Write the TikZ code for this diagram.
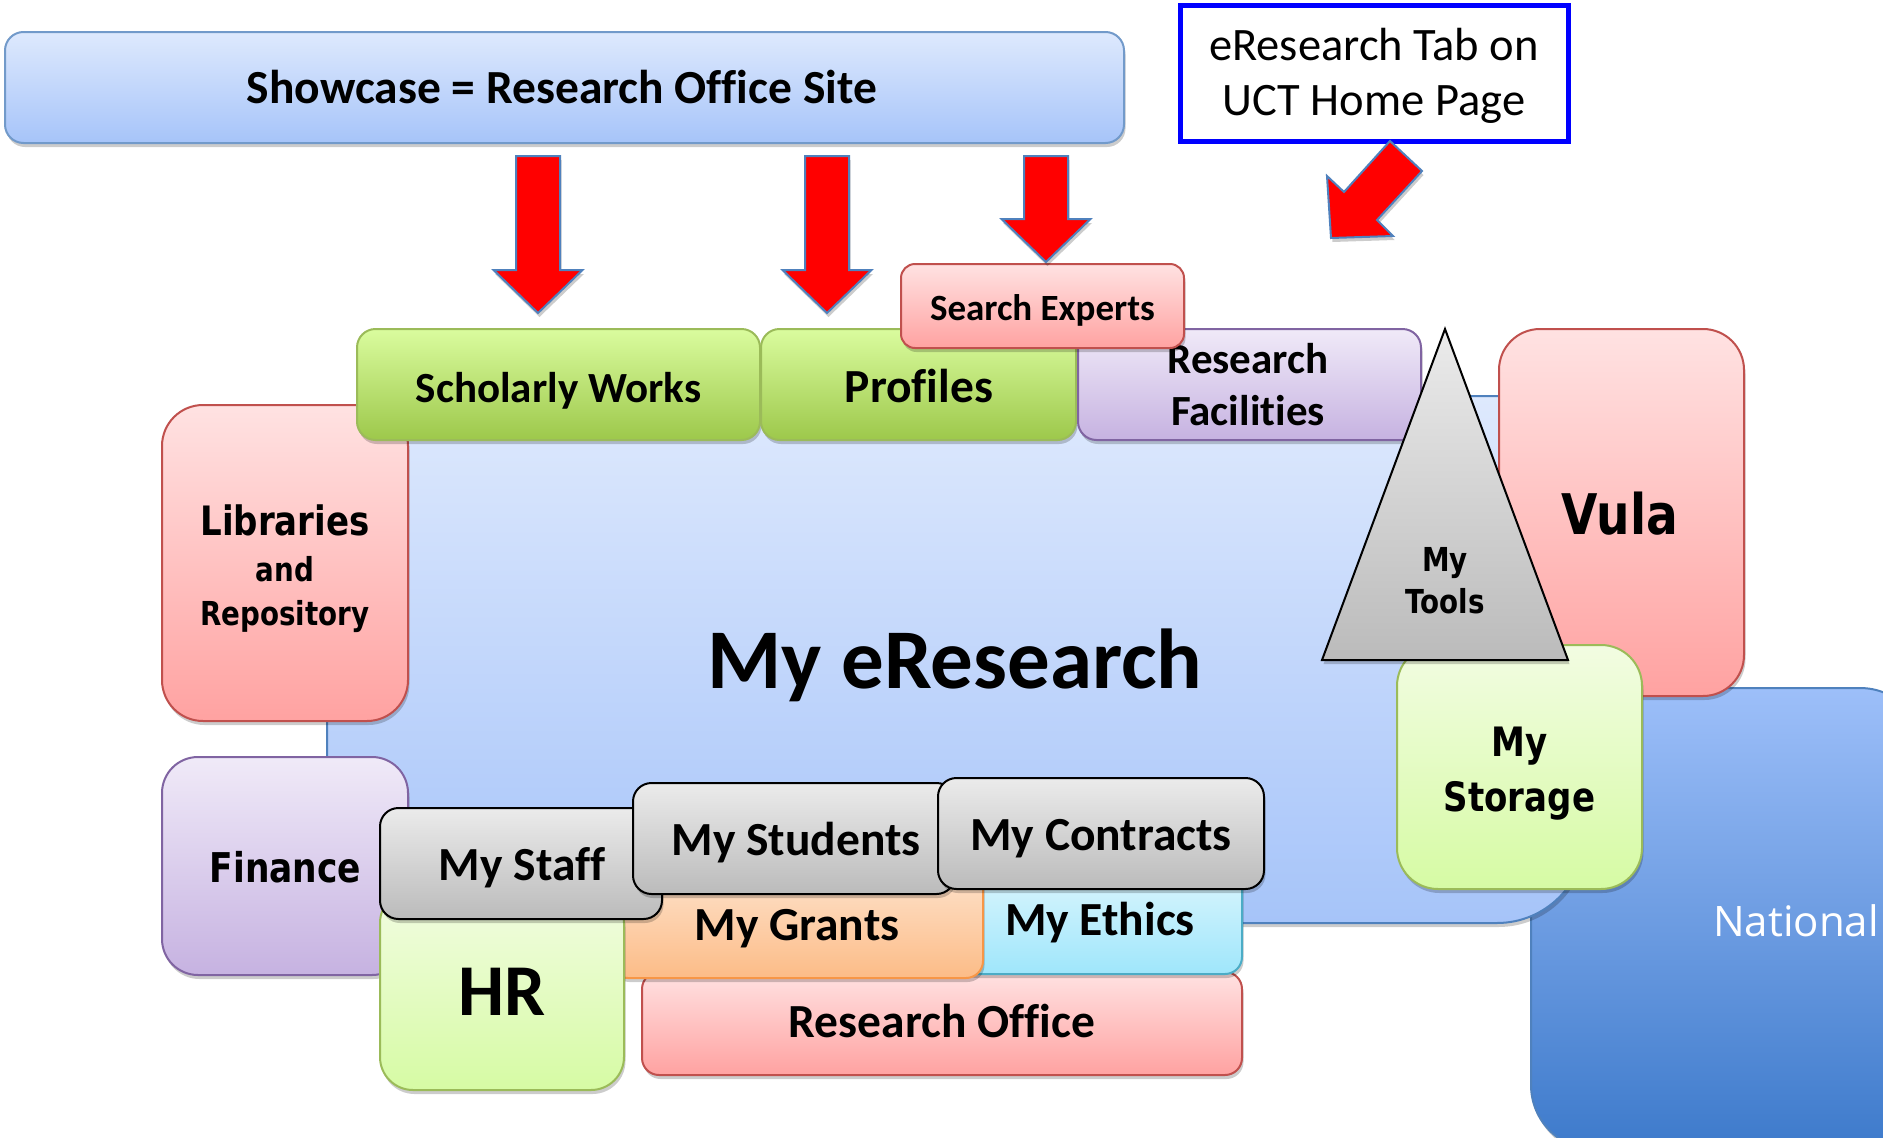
\documentclass[tikz,border=0pt]{standalone}
\usepackage{fontspec}
\setmainfont[Ligatures=NoCommon]{Carlito}
\newfontfamily\tah[FakeStretch=0.84]{DejaVu Sans}
\newfontfamily\osans{Open Sans}
\usetikzlibrary{shadows}
\definecolor{pinkT}{HTML}{FFE2E2}
\definecolor{pinkB}{HTML}{FFA2A1}
\definecolor{pinkD}{HTML}{C0504D}
\definecolor{grnT}{HTML}{DAFC9E}
\definecolor{grnB}{HTML}{9DC84B}
\definecolor{grnD}{HTML}{9BBB59}
\definecolor{lgrT}{HTML}{F2FCE2}
\definecolor{lgrB}{HTML}{D6FBA4}
\definecolor{lavT}{HTML}{F0EAF8}
\definecolor{lavB}{HTML}{C6B2E1}
\definecolor{lavD}{HTML}{8064A2}
\definecolor{gryT}{HTML}{EBEBEB}
\definecolor{gryB}{HTML}{BBBBBB}
\definecolor{pchT}{HTML}{FEE3CD}
\definecolor{pchB}{HTML}{FCBC87}
\definecolor{pchD}{HTML}{F79646}
\definecolor{cynT}{HTML}{DCF6FD}
\definecolor{cynB}{HTML}{9FE6FB}
\definecolor{cynD}{HTML}{4BACC6}
\definecolor{bluT}{HTML}{DEE9FD}
\definecolor{bluB}{HTML}{A6C4F9}
\definecolor{bluD}{HTML}{4F81BD}
\definecolor{natT}{HTML}{9DBFF9}
\definecolor{natB}{HTML}{3D7ACB}
\definecolor{tabD}{HTML}{0000FF}
\newcommand\myblockarrow[4]{\draw[barrow] (#1-22,#2) -- (#1+22,#2) -- (#1+22,#3) -- (#1+44.5,#3) -- (#1,#4) -- (#1-44.5,#3) -- (#1-22,#3) -- cycle;}
\begin{document}
\begin{tikzpicture}[x=1pt,y=-1pt,
  box/.style={draw, line width=2pt, inner sep=0pt, outer sep=0pt,
    drop shadow={shadow xshift=1.5pt, shadow yshift=-4pt, opacity=0.2, fill=black}},
  pinkbox/.style={box, draw=pinkD, top color=pinkT, bottom color=pinkB},
  grnbox/.style={box, draw=grnD, top color=grnT, bottom color=grnB},
  lgrbox/.style={box, draw=grnD, top color=lgrT, bottom color=lgrB},
  lavbox/.style={box, draw=lavD, top color=lavT, bottom color=lavB},
  grybox/.style={box, draw=black, top color=gryT, bottom color=gryB},
  pchbox/.style={box, draw=pchD, top color=pchT, bottom color=pchB},
  cynbox/.style={box, draw=cynD, top color=cynT, bottom color=cynB},
  blubox/.style={box, draw=bluD, top color=bluT, bottom color=bluB},
  lab/.style={inner sep=0pt, anchor=base},
  cal/.style={font=\bfseries\fontsize{#1}{#1}\selectfont},
  calr/.style={font=\fontsize{#1}{#1}\selectfont},
  tahf/.style={font=\tah\bfseries\fontsize{#1}{#1}\selectfont},
  barrow/.style={draw=bluD, line width=2pt, fill=red, line join=miter,
    drop shadow={shadow xshift=1.5pt, shadow yshift=-4pt, opacity=0.2, fill=black}}
]
\useasboundingbox (0,0) rectangle (1883,1138);
\clip (0,0) rectangle (1883,1138);
\fill[white] (0,0) rectangle (1883,1138);

% National (back)
\node[box, draw=bluD, top color=natT, bottom color=natB, minimum width=394pt, minimum height=462pt, rounded corners=65pt] (nat) at (1728,919) {};
\node[lab, anchor=base west, text=white, font=\osans\fontsize{42}{42}\selectfont] (natL) at (1713,936) {National};

% main My eResearch
\node[blubox, minimum width=1258pt, minimum height=527pt, rounded corners=88pt] (main) at (956,659.5) {};
\node[lab, cal=85] (mainL) at (955,688) {My eResearch};

% left column
\node[pinkbox, minimum width=246pt, minimum height=316pt, rounded corners=41pt] (lib) at (285,563) {};
\node[lab, tahf=40.5] (libL1) at (285,535) {Libraries};
\node[lab, tahf=33] (libL2) at (285,581.5) {and};
\node[lab, tahf=33] (libL3) at (285,625.6) {Repository};

\node[lavbox, minimum width=246pt, minimum height=218pt, rounded corners=36pt] (fin) at (285,866) {};
\node[lab, tahf=41] (finL) at (285.5,882) {Finance};

% bottom cluster
\node[pinkbox, minimum width=600pt, minimum height=103pt, rounded corners=17pt] (ro) at (942,1023.5) {};
\node[lab, cal=47.5] (roL) at (942,1037) {Research Office};

\node[cynbox, minimum width=284pt, minimum height=106pt, rounded corners=17pt] (eth) at (1100,921) {};
\node[lab, cal=47.5] (ethL) at (1100,935) {My Ethics};

\node[pchbox, minimum width=372pt, minimum height=110pt, rounded corners=17pt] (gra) at (797,923) {};
\node[lab, cal=47.5] (graL) at (797,940) {My Grants};

\node[lgrbox, minimum width=244pt, minimum height=200pt, rounded corners=33pt] (hr) at (502,990) {};
\node[lab, cal=73] (hrL) at (502,1015) {HR};

\node[grybox, minimum width=282pt, minimum height=111pt, rounded corners=18.5pt] (staff) at (521,863.5) {};
\node[lab, cal=47.5] (staffL) at (522,880) {My Staff};

\node[grybox, minimum width=322pt, minimum height=111pt, rounded corners=18.5pt] (stud) at (794,838.5) {};
\node[lab, cal=47.5] (studL) at (796,855) {My Students};

\node[grybox, minimum width=326pt, minimum height=111pt, rounded corners=18.5pt] (cont) at (1101,833.5) {};
\node[lab, cal=47.5] (contL) at (1101,850) {My Contracts};

% right side
\node[pinkbox, minimum width=245pt, minimum height=367pt, rounded corners=41pt] (vula) at (1621.5,512.5) {};
\node[lab, tahf=56] (vulaL) at (1620,534) {Vula};

% top row
\node[grnbox, minimum width=403pt, minimum height=111pt, rounded corners=18.5pt] (schol) at (558.5,384.5) {};
\node[lab, cal=43] (scholL) at (558.5,402) {Scholarly Works};

\node[grnbox, minimum width=315pt, minimum height=111pt, rounded corners=18.5pt] (prof) at (918.5,384.5) {};
\node[lab, cal=47.5] (profL) at (919,402) {Profiles};

\node[lavbox, minimum width=343pt, minimum height=111pt, rounded corners=18.5pt] (rf) at (1249.5,384.5) {};
\node[lab, cal=43] (rfL1) at (1248,373) {Research};
\node[lab, cal=43] (rfL2) at (1248,425) {Facilities};

\node[pinkbox, minimum width=283pt, minimum height=84pt, rounded corners=14pt] (se) at (1042.5,306) {};
\node[lab, cal=37] (seL) at (1042.5,320) {Search Experts};

\node[lgrbox, minimum width=245pt, minimum height=244pt, rounded corners=41pt] (stor) at (1519.5,767) {};
\node[lab, tahf=40.5] (storL1) at (1519.5,756) {My};
\node[lab, tahf=40.5] (storL2) at (1519.5,811.6) {Storage};

% My Tools triangle
\coordinate (tA) at (1445,329);
\coordinate (tL) at (1322,660);
\coordinate (tR) at (1568,660);
\shade[top color=gryT, bottom color=gryB, draw=black, line width=2pt, line join=miter,
  drop shadow={shadow xshift=1.5pt, shadow yshift=-4pt, opacity=0.2, fill=black}] (tA) -- (tR) -- (tL) -- cycle;
\node[lab, tahf=33] (toolL1) at (1445,571) {My};
\node[lab, tahf=33] (toolL2) at (1445,613.6) {Tools};

% top banners
\node[blubox, draw=bluD!80, minimum width=1119pt, minimum height=111pt, rounded corners=18.5pt] (show) at (564.5,87.5) {};
\node[lab, cal=47.5] (showL) at (562,103) {Showcase = Research Office Site};

\node[draw=tabD, line width=5pt, fill=white, inner sep=0pt, minimum width=388pt, minimum height=136pt] (tab) at (1374,73) {};
\node[lab, calr=46.5] (tabL1) at (1374,60) {eResearch Tab on};
\node[lab, calr=46.5] (tabL2) at (1374,115) {UCT Home Page};

% block arrows
\myblockarrow{538}{156}{270}{313}
\myblockarrow{827}{156}{270}{313}
\myblockarrow{1046}{156}{219}{262}
\draw[barrow] (1390,141) -- (1422,171) -- (1377,220) -- (1393,236) -- (1331,238) -- (1327,176) -- (1344,192) -- cycle;
\end{tikzpicture}
\end{document}
